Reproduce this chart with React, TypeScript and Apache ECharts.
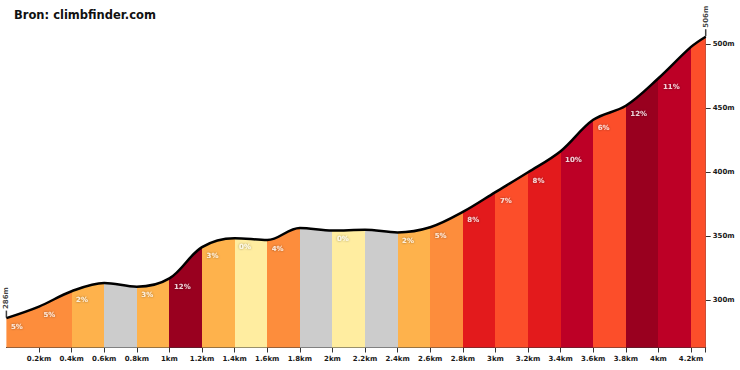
import React, { useEffect, useRef } from "react";
import * as echarts from "echarts";

// Profile points (km, m)
const distances = [0, 0.2, 0.4, 0.6, 0.8, 1.0, 1.2, 1.4, 1.6, 1.8, 2.0, 2.2, 2.4, 2.6, 2.8, 3.0, 3.2, 3.4, 3.6, 3.8, 4.0, 4.2, 4.29];
const elevations = [286, 295, 307, 313.5, 310.5, 317, 341.5, 348.5, 347, 356.5, 354.5, 355, 353, 357, 369, 384.5, 400, 416.5, 441, 452, 473.5, 498, 506];
// Grade of each segment (%); negative = descent (grey, no label)
const segmentGrades = [5, 5, 2, -2, 3, 12, 3, 0, 4, -1, 0, -1, 2, 5, 8, 7, 8, 10, 6, 12, 11, 7];
const segmentLabels = ["5%", "5%", "2%", "", "3%", "12%", "3%", "0%", "4%", "", "0%", "", "2%", "5%", "8%", "7%", "8%", "10%", "6%", "12%", "11%", ""];
const xTicks = [0.2, 0.4, 0.6, 0.8, 1, 1.2, 1.4, 1.6, 1.8, 2, 2.2, 2.4, 2.6, 2.8, 3, 3.2, 3.4, 3.6, 3.8, 4, 4.2];
const yTicks = [300, 350, 400, 450, 500];
const title = "Bron: climbfinder.com";

function gradeColor(g: number): string {
  if (g < 0) return "#CCCCCC";
  if (g < 2) return "#FFEDA0";
  if (g < 4) return "#FEB24C";
  if (g < 6) return "#FD8D3C";
  if (g < 8) return "#FC4E2A";
  if (g < 10) return "#E31A1C";
  if (g < 12) return "#BD0026";
  return "#99001F";
}

const FONT = "DejaVu Sans";

export default function App() {
  const ref = useRef<HTMLDivElement>(null);
  useEffect(() => {
    if (!ref.current) return;
    const chart = echarts.init(ref.current, undefined, { renderer: "svg" });
    const n = segmentGrades.length;
    const pieces = segmentGrades.map((g, i) =>
      i === n - 1
        ? { gte: distances[i], lte: distances[i + 1], color: gradeColor(g) }
        : { gte: distances[i], lt: distances[i + 1], color: gradeColor(g) }
    );
    const profile = distances.map((d, i) => [d, elevations[i]]);
    const labelData = segmentLabels
      .map((t, i) => ({ value: [distances[i], elevations[i]], name: t }))
      .filter((p) => p.name !== "");
    const endPoints = [
      { value: [distances[0], elevations[0]], name: elevations[0] + "m" },
      { value: [distances[distances.length - 1], elevations[elevations.length - 1]], name: elevations[elevations.length - 1] + "m" },
    ];
    chart.setOption({
      animation: false,
      title: {
        text: title,
        left: 14,
        top: 9,
        padding: 0,
        textStyle: { fontFamily: FONT, fontSize: 11.5, fontWeight: "bold", color: "#111" },
      },
      grid: { left: 6.4, right: 34.3, top: 36.7, bottom: 22.5 },
      visualMap: {
        show: false,
        type: "piecewise",
        dimension: 0,
        seriesIndex: 0,
        pieces,
      },
      xAxis: {
        type: "value",
        min: 0,
        max: distances[distances.length - 1],
        splitLine: { show: false },
        axisLine: { show: true, onZero: false, lineStyle: { color: "#333", width: 1 } },
        axisTick: {
          show: true,
          length: 5,
          customValues: [...xTicks, distances[distances.length - 1]],
          lineStyle: { color: "#333" },
        },
        axisLabel: {
          customValues: xTicks,
          margin: 8,
          formatter: (v: number) => `${+v.toFixed(1)}km`,
          fontFamily: FONT,
          fontSize: 7,
          fontWeight: "bold",
          color: "#1a1a1a",
        },
      },
      yAxis: {
        type: "value",
        position: "right",
        min: 263,
        max: 506,
        splitLine: { show: false },
        axisLine: { show: true, onZero: false, lineStyle: { color: "#555", width: 1 } },
        axisTick: { show: true, length: 5, customValues: yTicks, lineStyle: { color: "#333" } },
        axisLabel: {
          customValues: yTicks,
          margin: 7,
          formatter: (v: number) => `${v}m`,
          fontFamily: FONT,
          fontSize: 7,
          fontWeight: "bold",
          color: "#1a1a1a",
        },
      },
      series: [
        {
          type: "line",
          data: profile,
          smooth: 0.35,
          symbol: "none",
          clip: false,
          lineStyle: { color: "#000", width: 2.5 },
          areaStyle: { opacity: 1 },
          z: 2,
        },
        {
          type: "scatter",
          data: labelData,
          symbolSize: 1,
          itemStyle: { color: "rgba(0,0,0,0)" },
          z: 3,
          label: {
            show: true,
            position: "right",
            distance: 4,
            offset: [0, 8.5],
            formatter: (p: any) => p.name,
            color: "#fff",
            fontFamily: FONT,
            fontSize: 7,
            fontWeight: "bold",
            textShadowColor: "rgba(0,0,0,0.55)",
            textShadowBlur: 2,
          },
        },
        {
          type: "scatter",
          data: endPoints,
          symbol: "rect",
          symbolSize: [1.5, 7],
          symbolOffset: [0, -4],
          itemStyle: { color: "#111" },
          z: 4,
          label: {
            show: true,
            position: "top",
            distance: 1.5,
            rotate: 90,
            align: "left",
            verticalAlign: "middle",
            formatter: (p: any) => p.name,
            color: "#111",
            fontFamily: FONT,
            fontSize: 7,
            fontWeight: "bold",
          },
        },
      ],
    });
    return () => chart.dispose();
  }, []);
  return (
    <div
      ref={ref}
      style={{ position: "fixed", left: 0, top: 0, width: 740, height: 370, background: "#fff" }}
    />
  );
}
